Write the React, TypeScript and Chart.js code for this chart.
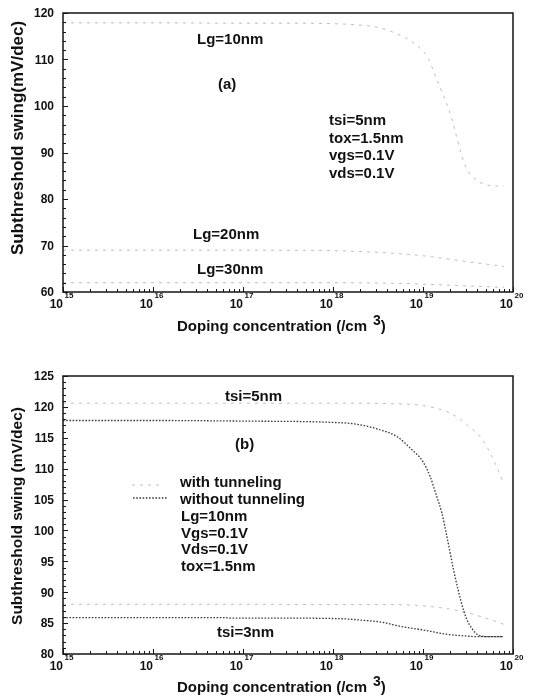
import React, { useEffect, useRef } from "react";
import { Chart, registerables } from "chart.js";
Chart.register(...registerables);

const FONT = "'Liberation Sans', Arial, Helvetica, sans-serif";

// ---------- shared axis data ----------
const xExponents = [15, 16, 17, 18, 19, 20];
const xTitle = "Doping concentration (/cm";
const xTitleSup = "3";

// ---------- panel (a) ----------
const aYTicks = [60, 70, 80, 90, 100, 110, 120];
const aYTitle = "Subthreshold swing(mV/dec)";
const aLg10Log = [15, 16, 17, 17.5, 18, 18.3, 18.5, 18.7, 18.9, 19.05, 19.16, 19.3, 19.47, 19.6, 19.75, 19.9];
const aLg10SS = [117.9, 117.9, 117.8, 117.8, 117.7, 117.4, 116.9, 115.6, 113.5, 110.5, 105.4, 98.5, 87.1, 84.0, 82.9, 82.8];
const aLg20Log = [15, 16, 17, 18, 18.3, 18.7, 19, 19.5, 19.9];
const aLg20SS = [69.0, 69.0, 69.0, 68.9, 68.7, 68.3, 67.8, 66.5, 65.5];
const aLg30Log = [15, 16, 17, 18, 18.6, 19, 19.5, 19.9];
const aLg30SS = [62.0, 62.0, 62.0, 62.0, 61.9, 61.7, 61.3, 61.0];
const aCurveLabels = ["Lg=10nm", "Lg=20nm", "Lg=30nm"];
const aPanelLabel = "(a)";
const aParams = ["tsi=5nm", "tox=1.5nm", "vgs=0.1V", "vds=0.1V"];

// ---------- panel (b) ----------
const bYTicks = [80, 85, 90, 95, 100, 105, 110, 115, 120, 125];
const bYTitle = "Subthreshold swing (mV/dec)";
const bWith5Log = [15, 16, 17, 18, 18.7, 19.0, 19.3, 19.5, 19.67, 19.8, 19.9];
const bWith5SS = [120.6, 120.6, 120.6, 120.6, 120.5, 120.2, 119.0, 117.0, 114.5, 110.9, 107.5];
const bWithout5Log = [15, 16, 17, 17.97, 18.26, 18.52, 18.71, 18.86, 19.0, 19.08, 19.15, 19.21, 19.26, 19.34, 19.39, 19.45, 19.49, 19.54, 19.61, 19.74, 19.89];
const bWithout5SS = [117.8, 117.8, 117.7, 117.5, 117.2, 116.3, 115.2, 113.3, 111.1, 108.7, 105.6, 102.8, 99.4, 93.6, 90.4, 87.1, 85.5, 84.2, 83.1, 82.8, 82.8];
const bWith3Log = [15, 16, 17, 18, 18.6, 19.0, 19.4, 19.7, 19.9];
const bWith3SS = [88.05, 88.05, 88.05, 88.0, 88.0, 87.8, 87.0, 85.8, 84.8];
const bWithout3Log = [15, 16, 16.8, 16.85, 17.5, 18.11, 18.3, 18.56, 18.74, 19.0, 19.26, 19.49, 19.6, 19.89];
const bWithout3SS = [85.9, 85.9, 85.9, 85.8, 85.8, 85.7, 85.5, 85.1, 84.5, 83.9, 83.2, 82.9, 82.8, 82.8];
const bLegend = ["with tunneling", "without tunneling"];
const bParams = ["Lg=10nm", "Vgs=0.1V", "Vds=0.1V", "tox=1.5nm"];
const bCurveLabels = ["tsi=5nm", "tsi=3nm"];
const bPanelLabel = "(b)";

const toPts = (logs: number[], vals: number[]) => logs.map((l, i) => ({ x: Math.pow(10, l), y: vals[i] }));

const FAINT = { color: "rgba(110,110,110,0.45)", dash: [3, 5], width: 1 };
const DOTTED = { color: "#3a3a3a", dash: [1.6, 1.6], width: 1.3 };

function ds(logs: number[], vals: number[], st: any) {
  return {
    data: toPts(logs, vals),
    showLine: true,
    borderColor: st.color,
    borderWidth: st.width,
    borderDash: st.dash,
    pointRadius: 0,
    fill: false,
    tension: 0,
    cubicInterpolationMode: "monotone",
  };
}

function makePlugin(cfg: any) {
  return {
    id: "paperFrame",
    afterDatasetsDraw(chart: any) {
      const ctx = chart.ctx as CanvasRenderingContext2D;
      const a = chart.chartArea;
      const xs = chart.scales.x;
      const ys = chart.scales.y;
      const off = cfg.offsetTop;
      ctx.save();
      // frame
      ctx.strokeStyle = "#151515";
      ctx.lineWidth = 1.5;
      ctx.setLineDash([]);
      ctx.strokeRect(a.left, a.top, a.right - a.left, a.bottom - a.top);
      // y ticks
      ctx.lineWidth = 1;
      for (let v = cfg.yMin; v <= cfg.yMax + 1e-9; v += cfg.yMinor) {
        const py = Math.round(ys.getPixelForValue(v)) + 0.5;
        const isMajor = cfg.yTicks.some((t: number) => Math.abs(t - v) < 1e-6);
        ctx.beginPath();
        ctx.moveTo(a.left, py);
        ctx.lineTo(a.left + (isMajor ? 5 : 3), py);
        ctx.stroke();
      }
      // x ticks
      xExponents.forEach((e) => {
        const px = Math.round(xs.getPixelForValue(Math.pow(10, e))) + 0.5;
        ctx.beginPath();
        ctx.moveTo(px, a.bottom);
        ctx.lineTo(px, a.bottom - 5);
        ctx.stroke();
        if (e < 20) {
          for (let m = 2; m <= 9; m++) {
            const mx = Math.round(xs.getPixelForValue(m * Math.pow(10, e))) + 0.5;
            ctx.beginPath();
            ctx.moveTo(mx, a.bottom);
            ctx.lineTo(mx, a.bottom - 3);
            ctx.stroke();
          }
        }
      });
      ctx.fillStyle = "#111";
      // y tick labels
      ctx.font = `bold 12px ${FONT}`;
      ctx.textAlign = "right";
      ctx.textBaseline = "middle";
      cfg.yTicks.forEach((t: number) => {
        ctx.fillText(String(t), a.left - 9, ys.getPixelForValue(t) + 1);
      });
      // x tick labels 10^n
      xExponents.forEach((e) => {
        const px = xs.getPixelForValue(Math.pow(10, e));
        ctx.font = `bold 12px ${FONT}`;
        ctx.textAlign = "right";
        ctx.fillText("10", px, a.bottom + 12.5);
        ctx.font = `bold 8px ${FONT}`;
        ctx.textAlign = "left";
        ctx.fillText(String(e), px + 1.5, a.bottom + 4);
      });
      // x title
      ctx.font = `bold 15px ${FONT}`;
      ctx.textAlign = "left";
      const tx = 177;
      const ty = a.bottom + cfg.xTitleDy;
      ctx.fillText(xTitle, tx, ty);
      const w1 = ctx.measureText(xTitle).width;
      ctx.font = `bold 14px ${FONT}`;
      ctx.fillText(xTitleSup, tx + w1 + 6, ty - 6);
      const w2 = ctx.measureText(xTitleSup).width;
      ctx.font = `bold 15px ${FONT}`;
      ctx.fillText(")", tx + w1 + 6 + w2, ty);
      // y title
      ctx.save();
      ctx.translate(18, cfg.yTitleY - off);
      ctx.rotate(-Math.PI / 2);
      ctx.textAlign = "center";
      ctx.font = `bold ${cfg.yTitleSize}px ${FONT}`;
      ctx.fillText(cfg.yTitle, 0, 0);
      ctx.restore();
      // annotations
      ctx.font = `bold 15px ${FONT}`;
      ctx.textAlign = "left";
      ctx.textBaseline = "middle";
      cfg.texts.forEach((t: any) => ctx.fillText(t.s, t.x, t.y - off));
      // legend samples
      (cfg.samples || []).forEach((s: any) => {
        ctx.strokeStyle = s.st.color;
        ctx.lineWidth = s.st.width;
        ctx.setLineDash(s.st.dash);
        ctx.beginPath();
        ctx.moveTo(s.x0, s.y - off);
        ctx.lineTo(s.x1, s.y - off);
        ctx.stroke();
      });
      ctx.restore();
    },
  };
}

function PaperChart(props: any) {
  const ref = useRef<HTMLCanvasElement | null>(null);
  const { cfg, datasets, width, height, top, padding } = props;
  useEffect(() => {
    if (!ref.current) return;
    const chart = new Chart(ref.current, {
      type: "scatter",
      data: { datasets },
      options: {
        responsive: false,
        animation: false,
        events: [],
        layout: { padding },
        plugins: { legend: { display: false }, tooltip: { enabled: false } },
        scales: {
          x: { type: "logarithmic", min: 1e15, max: 1e20, display: false },
          y: { type: "linear", min: cfg.yMin, max: cfg.yMax, display: false },
        },
      } as any,
      plugins: [makePlugin(cfg)],
    } as any);
    return () => chart.destroy();
  }, []);
  return (
    <canvas
      ref={ref}
      width={width}
      height={height}
      style={{ position: "absolute", left: 0, top, width, height }}
    />
  );
}

export default function App() {
  const aDatasets = [
    ds(aLg10Log, aLg10SS, FAINT),
    ds(aLg20Log, aLg20SS, FAINT),
    ds(aLg30Log, aLg30SS, FAINT),
  ];
  const bDatasets = [
    ds(bWith5Log, bWith5SS, FAINT),
    ds(bWithout5Log, bWithout5SS, DOTTED),
    ds(bWith3Log, bWith3SS, FAINT),
    ds(bWithout3Log, bWithout3SS, DOTTED),
  ];
  const aCfg = {
    offsetTop: 0,
    yMin: 60,
    yMax: 120,
    yMinor: 2,
    yTicks: aYTicks,
    yTitle: aYTitle,
    yTitleY: 138,
    yTitleSize: 17,
    xTitleDy: 35,
    texts: [
      { s: aCurveLabels[0], x: 197, y: 40 },
      { s: aPanelLabel, x: 218, y: 85 },
      ...aParams.map((s, i) => ({ s, x: 329, y: 121 + i * 17.5 })),
      { s: aCurveLabels[1], x: 193, y: 235 },
      { s: aCurveLabels[2], x: 197, y: 270 },
    ],
  };
  const bCfg = {
    offsetTop: 340,
    yMin: 80,
    yMax: 125,
    yMinor: 1,
    yTicks: bYTicks,
    yTitle: bYTitle,
    yTitleY: 516,
    yTitleSize: 15.5,
    xTitleDy: 34,
    texts: [
      { s: bCurveLabels[0], x: 225, y: 397 },
      { s: bPanelLabel, x: 235, y: 445 },
      { s: bLegend[0], x: 180, y: 483 },
      { s: bLegend[1], x: 180, y: 500 },
      ...bParams.map((s, i) => ({ s, x: 181, y: 517 + i * 16.6 })),
      { s: bCurveLabels[1], x: 217, y: 633 },
    ],
    samples: [
      { x0: 132, x1: 162, y: 485, st: FAINT },
      { x0: 133, x1: 167, y: 498, st: DOTTED },
    ],
  };
  return (
    <div style={{ position: "absolute", left: 0, top: 0, width: 534, height: 698, background: "#fff" }}>
      <PaperChart
        cfg={aCfg}
        datasets={aDatasets}
        width={534}
        height={340}
        top={0}
        padding={{ left: 63, right: 21, top: 13, bottom: 48 }}
      />
      <PaperChart
        cfg={bCfg}
        datasets={bDatasets}
        width={534}
        height={358}
        top={340}
        padding={{ left: 63, right: 21, top: 36, bottom: 44 }}
      />
    </div>
  );
}
